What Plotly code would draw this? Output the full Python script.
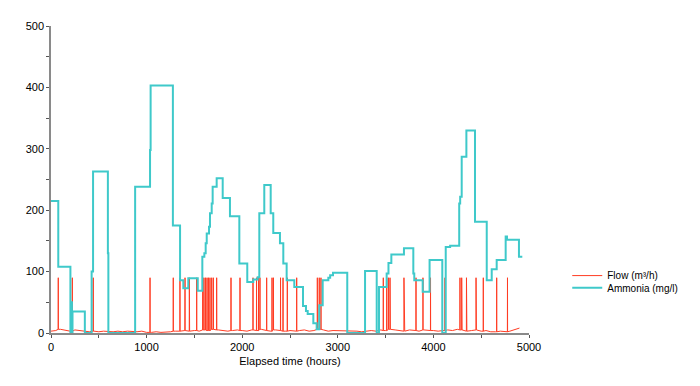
import plotly.graph_objects as go

# ---------------- data ----------------
# Ammonia (mg/l): step series, (hour, value) change points
amm_hours = [0, 76, 203, 214, 219, 225, 354, 425, 440, 595, 600, 880, 1036, 1042, 1275,
             1350, 1384, 1436, 1535, 1583, 1604, 1618, 1629, 1653, 1663, 1681, 1691, 1733,
             1796, 1872, 1970, 2053, 2116, 2162, 2179, 2231, 2298, 2325, 2395, 2430, 2465,
             2545, 2636, 2667, 2685, 2744, 2779, 2806, 2842, 2901, 2920, 2950, 3099, 3285,
             3407, 3431, 3511, 3530, 3560, 3692, 3790, 3800, 3888, 3960, 4093, 4129, 4175,
             4270, 4280, 4296, 4345, 4435, 4558, 4610, 4662, 4756, 4770, 4895, 4930]
amm_values = [215, 108, 0, 50, 0, 35, 0, 100, 263, 130, 0, 238, 298, 403, 175,
              86, 73, 89, 69, 124, 130, 146, 162, 173, 195, 211, 238, 252,
              220, 190, 113, 83, 87, 91, 195, 241, 195, 163, 146, 113, 86,
              75, 44, 36, 31, 16, 6, 45, 86, 90, 94, 98, 0, 101,
              0, 75, 97, 114, 128, 138, 97, 86, 67, 119, 0, 140, 142,
              211, 222, 287, 330, 181, 86, 104, 119, 157, 152, 124, 124]

# Flow (m3/h): baseline every 50 h plus short spikes
flow_base_hours = list(range(0, 4950, 50))
flow_base_values = [3, 4, 6, 4, 3, 5, 4, 3, 2, 3,
                    2, 3, 2, 2, 3, 2, 3, 2, 2, 3,
                    1, 1, 2, 1, 1, 2, 3, 3, 4, 3,
                    4, 3, 5, 4, 6, 5, 4, 3, 4, 5,
                    4, 3, 5, 4, 6, 4, 3, 5, 4, 3,
                    4, 3, 4, 5, 3, 4, 6, 5, 3, 4,
                    4, 3, 3, 4, 3, 2, 3, 4, 3, 5,
                    4, 6, 5, 4, 3, 5, 4, 3, 5, 4,
                    4, 3, 4, 5, 4, 6, 5, 3, 4, 5,
                    3, 4, 2, 2, 3, 2, 3, 5, 8]
spike_hours = [76, 223, 442, 1036, 1279, 1349, 1402, 1447, 1524, 1587, 1600, 1616, 1632,
               1647, 1663, 1681, 1698, 1733, 1883, 1977, 2113, 2150, 2171, 2186, 2256,
               2312, 2327, 2401, 2427, 2472, 2570, 2786, 2806, 2824, 3476, 3512, 3530,
               3546, 3692, 3818, 3891, 3970, 4121, 4278, 4296, 4346, 4446, 4522, 4662, 4775]
spike_values = [90] * len(spike_hours)

# ---------------- build flow trace ----------------
pts = list(zip(flow_base_hours, flow_base_values))
for t, v in zip(spike_hours, spike_values):
    idx = min(range(len(flow_base_hours)), key=lambda i: abs(flow_base_hours[i] - t))
    b = flow_base_values[idx]
    pts += [(t - 1, b), (t, v), (t + 1, b)]
pts.sort(key=lambda p: p[0])
flow_x = [p[0] for p in pts]
flow_y = [p[1] for p in pts]

FONT = "Arial, Liberation Sans, sans-serif"

fig = go.Figure()
fig.add_trace(go.Scatter(
    x=flow_x, y=flow_y, mode="lines", name="Flow (m³/h)", legend="legend",
    showlegend=True,
    line=dict(color="rgb(255,60,35)", width=1),
))
fig.add_trace(go.Scatter(
    x=amm_hours, y=amm_values, mode="lines", name="Ammonia (mg/l)", legend="legend2",
    showlegend=True,
    line=dict(color="#3FC9CA", width=2, shape="hv"),
))

axis_common = dict(
    showgrid=False, zeroline=False, showline=True, linecolor="#8a8a8a", linewidth=1.5,
    ticks="outside", ticklen=3, tickcolor="#555555", tickwidth=1,
    tickfont=dict(family=FONT, size=11, color="#000"),
)
fig.update_xaxes(range=[0, 5000], tickvals=[0, 1000, 2000, 3000, 4000, 5000],
                 minor=dict(tickvals=[500, 1500, 2500, 3500, 4500], ticklen=3, tickcolor="#555"),
                 title=dict(text="Elapsed time (hours)", standoff=5,
                            font=dict(family=FONT, size=11, color="#000")),
                 **axis_common)
fig.update_yaxes(range=[0, 500], tickvals=[0, 100, 200, 300, 400, 500],
                 minor=dict(tickvals=[50, 150, 250, 350, 450], ticklen=3, tickcolor="#555"),
                 **axis_common)

# page has an 8px body margin: shift plot area up/left by 8px
leg_common = dict(xanchor="left", yanchor="middle", font=dict(family=FONT, size=10),
                  bgcolor="rgba(0,0,0,0)", itemwidth=30, visible=True)
fig.update_layout(
    width=700, height=386, showlegend=True,
    margin=dict(l=43, r=179, t=18, b=61, autoexpand=False),
    plot_bgcolor="white", paper_bgcolor="white",
    font=dict(family=FONT, size=10, color="#000"),
    legend=dict(x=1.08, y=0.187, **leg_common),
    legend2=dict(x=1.08, y=0.147, **leg_common),
)
fig.write_html("out.html")
